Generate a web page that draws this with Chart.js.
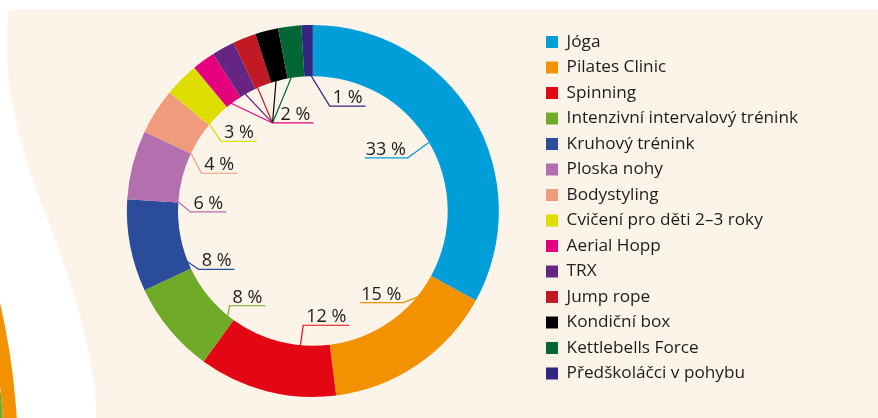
<!DOCTYPE html>
<html lang="cs">
<head>
<meta charset="utf-8">
<title>Lekce</title>
<script src="https://cdn.jsdelivr.net/npm/chart.js@4.4.0/dist/chart.umd.min.js"></script>
<style>
  html, body { margin: 0; padding: 0; background: #fff; }
  #wrap { width: 878px; height: 418px; }
</style>
</head>
<body>
<div id="wrap"><canvas id="lessonChart" width="878" height="418"></canvas></div>
<script>
// lessons, clockwise from 12 o'clock (same order as the legend)
var lessons = [
  'Jóga', 'Pilates Clinic', 'Spinning', 'Intenzivní intervalový trénink',
  'Kruhový trénink', 'Ploska nohy', 'Bodystyling', 'Cvičení pro děti 2–3 roky',
  'Aerial Hopp', 'TRX', 'Jump rope', 'Kondiční box', 'Kettlebells Force',
  'Předškoláčci v pohybu'
];
// share of all visits, in %
var shares = [33, 15, 12, 8, 8, 6, 4, 3, 2, 2, 2, 2, 2, 1];

var sliceColors = [
  '#009ed8', '#f39200', '#e30613', '#6fab29', '#2b4b9b', '#b36fae', '#f09b7c',
  '#dedc00', '#e5007d', '#662483', '#c11a24', '#000000', '#006633', '#312783'
];

// label placement: t = where on the slice's inner edge the leader starts,
// dx/dy = elbow relative to that point, dir = which way the underline runs.
// join = share the label of another slice (the five 2 % slices)
var labelLayout = [
  { t: 0.5, dx: -22, dy: 16, dir: -1 },
  { t: 0.19, dx: -15, dy: 6, dir: -1 },
  { t: 0.29, dx: 3, dy: -21, dir: 1 },
  { t: 0.1, dx: 2, dy: -11, dir: 1 },
  { t: 0.12, dx: 12, dy: 8, dir: 1 },
  { t: 0.03, dx: 13, dy: 11, dir: 1 },
  { t: 0.03, dx: 11, dy: 21, dir: 1 },
  { t: 0.05, dx: 12, dy: 18, dir: 1 },
  { t: 0.32, dx: 42, dy: 20, dir: 1, pad: 8 },
  { t: 0.32, join: 8 },
  { t: 0.15, join: 8 },
  { t: 0.32, join: 8 },
  { t: 0.25, join: 8 },
  { t: 0.75, dx: 19, dy: 31, dir: 1 }
];

var paper = '#fdf4e9';
var ink = '#1d1d1b';
var fontFamily = '"Open Sans", Lato, sans-serif';

// cream page with the wavy cut on the left, plus the edge of the neighbouring chart
var backdrop = {
  id: 'backdrop',
  beforeDraw: function (chart) {
    var ctx = chart.ctx;
    ctx.save();
    ctx.fillStyle = '#fff';
    ctx.fillRect(0, 0, chart.width, chart.height);
    ctx.fillStyle = paper;
    ctx.beginPath();
    ctx.moveTo(9, 10);
    ctx.lineTo(chart.width, 10);
    ctx.lineTo(chart.width, chart.height);
    ctx.lineTo(96, chart.height);
    ctx.bezierCurveTo(97, 350, 64, 261, 40, 200);
    ctx.bezierCurveTo(23, 157, 7, 95, 7, 55);
    ctx.quadraticCurveTo(6, 30, 9, 10);
    ctx.closePath();
    ctx.fill();

    ctx.lineWidth = 14;
    ctx.strokeStyle = '#f39200';
    ctx.beginPath();
    ctx.arc(-676, 460, 687, -0.35, 0.2);
    ctx.stroke();
    ctx.lineWidth = 8;
    ctx.strokeStyle = '#6fab29';
    ctx.beginPath();
    ctx.arc(-676, 460, 676, -0.1, 0.2);
    ctx.stroke();
    ctx.restore();
  }
};

// percentage labels with leader lines, drawn inside the hole
var sliceLabels = {
  id: 'sliceLabels',
  afterDatasetsDraw: function (chart) {
    var ctx = chart.ctx;
    var arcs = chart.getDatasetMeta(0).data;
    var elbows = [];
    ctx.save();
    ctx.font = '18px ' + fontFamily;
    ctx.lineWidth = 1.2;
    ctx.textBaseline = 'alphabetic';
    labelLayout.forEach(function (lay, i) {
      var p = arcs[i].getProps(['x', 'y', 'startAngle', 'endAngle', 'innerRadius'], true);
      var a = p.startAngle + lay.t * (p.endAngle - p.startAngle);
      var ax = p.x + Math.cos(a) * (p.innerRadius + 1);
      var ay = p.y + Math.sin(a) * (p.innerRadius + 1);
      var elbow;
      if (lay.join !== undefined) {
        elbow = elbows[lay.join];
      } else {
        elbow = { x: ax + lay.dx, y: ay + lay.dy };
        elbows[i] = elbow;
      }
      ctx.strokeStyle = sliceColors[i];
      ctx.beginPath();
      ctx.moveTo(ax, ay);
      ctx.lineTo(elbow.x, elbow.y);
      if (lay.join === undefined) {
        var text = shares[i] + ' %';
        var w = ctx.measureText(text).width;
        var pad = lay.pad || 3;
        if (lay.dir > 0) {
          ctx.lineTo(elbow.x + pad + w + 3, elbow.y);
        } else {
          ctx.lineTo(elbow.x - w - 3, elbow.y);
        }
        ctx.stroke();
        ctx.fillStyle = ink;
        if (lay.dir > 0) {
          ctx.textAlign = 'left';
          ctx.fillText(text, elbow.x + pad, elbow.y - 3);
        } else {
          ctx.textAlign = 'right';
          ctx.fillText(text, elbow.x - 2, elbow.y - 3);
        }
      } else {
        ctx.stroke();
      }
    });
    ctx.restore();
  }
};

var ctx = document.getElementById('lessonChart');
var lessonChart = new Chart(ctx, {
  type: 'doughnut',
  data: {
    labels: lessons,
    datasets: [{
      data: shares,
      backgroundColor: sliceColors,
      borderWidth: 0
    }]
  },
  options: {
    responsive: false,
    animation: false,
    events: [],
    cutout: '72.5%',
    layout: {
      padding: { left: 88, right: 70, top: 25, bottom: 21 }
    },
    plugins: {
      tooltip: { enabled: false },
      legend: {
        display: true,
        position: 'right',
        align: 'start',
        labels: {
          color: ink,
          font: { family: fontFamily, size: 17.2 },
          boxWidth: 12,
          boxHeight: 12,
          padding: 8.3
        }
      }
    }
  },
  plugins: [backdrop, sliceLabels]
});
</script>
</body>
</html>
